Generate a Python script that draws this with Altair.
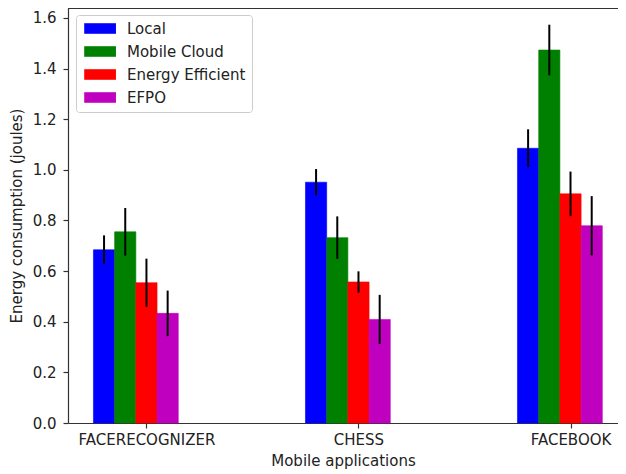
import json
import altair as alt
import pandas as pd

apps = ["FACERECOGNIZER", "CHESS", "FACEBOOK"]
methods = ["Local", "Mobile Cloud", "Energy Efficient", "EFPO"]
colors = ["#0000ff", "#008000", "#ff0000", "#bf00bf"]

local = [0.684, 0.951, 1.085]
mobile_cloud = [0.755, 0.732, 1.473]
energy_eff = [0.554, 0.557, 0.905]
efpo = [0.433, 0.409, 0.779]

local_err = [0.057, 0.052, 0.075]
mobile_cloud_err = [0.094, 0.084, 0.100]
energy_eff_err = [0.095, 0.042, 0.088]
efpo_err = [0.090, 0.097, 0.117]

y_ticks = [0.0, 0.2, 0.4, 0.6, 0.8, 1.0, 1.2, 1.4, 1.6]

series = [local, mobile_cloud, energy_eff, efpo]
errors = [local_err, mobile_cloud_err, energy_eff_err, efpo_err]
bar_w = 0.1

rows = []
for gi, app in enumerate(apps):
    for si, m in enumerate(methods):
        c = gi + (si - 2) * bar_w
        v = series[si][gi]
        e = errors[si][gi]
        rows.append(dict(app=app, method=m, value=v, base=0.0, center=c,
                         x0=c - bar_w / 2, x1=c + bar_w / 2,
                         lo=v - e, hi=v + e))
df = pd.DataFrame(rows)

W, H = 550, 415
FONT = "DejaVu Sans"
FS = 15

xscale = alt.Scale(domain=[-0.37, 2.224], nice=False, zero=False)
yscale = alt.Scale(domain=[0, 1.639], nice=False)
cscale = alt.Scale(domain=methods, range=colors)

label_expr = json.dumps(apps) + "[datum.value]"

base = alt.Chart(df)

bars = base.mark_bar(strokeWidth=0.6).encode(
    x=alt.X("x0:Q", scale=xscale,
            axis=alt.Axis(values=[0, 1, 2], labelExpr=label_expr,
                          title="Mobile applications", grid=False,
                          labelPadding=4, titlePadding=6)),
    x2="x1:Q",
    y=alt.Y("value:Q", scale=yscale,
            axis=alt.Axis(values=y_ticks, format=".1f", grid=False,
                          title="Energy consumption (joules)",
                          labelPadding=7, titlePadding=8)),
    y2="base:Q",
    stroke=alt.Stroke("method:N", scale=cscale, legend=None),
    color=alt.Color("method:N", scale=cscale,
                    legend=alt.Legend(
                        title=None, orient="none", legendX=8, legendY=7,
                        symbolType="M-1,-1H5V1H-1Z", symbolSize=112,
                        symbolStrokeWidth=0, symbolOpacity=1,
                        labelOffset=30, rowPadding=7, padding=6,
                        fillColor="white", strokeColor="#cccccc",
                        cornerRadius=3, labelFontSize=FS, labelFont=FONT,
                        labelColor="#222222")),
)

errs = base.mark_rule(color="black", strokeWidth=2).encode(
    x=alt.X("center:Q", scale=xscale),
    y=alt.Y("lo:Q", scale=yscale),
    y2="hi:Q",
)

top = alt.Chart(df).mark_rule(color="#333333", strokeWidth=1.2).encode(
    x=alt.value(0), x2=alt.value(W), y=alt.value(0)
)

chart = alt.layer(bars, errs, top).properties(
    width=W, height=H,
    autosize=alt.AutoSizeParams(type="none"),
    padding={"left": 60, "top": 0, "right": 0, "bottom": 51},
).configure_view(stroke=None).configure_axis(
    labelFont=FONT, titleFont=FONT, labelFontSize=FS, titleFontSize=FS,
    titleFontWeight="normal", labelColor="#222222", titleColor="#222222",
    domainColor="#333333", domainWidth=1.2, tickColor="#333333",
    tickSize=5, tickWidth=1.2,
)

chart.save("out.html", embed_options={"renderer": "svg", "actions": False})
